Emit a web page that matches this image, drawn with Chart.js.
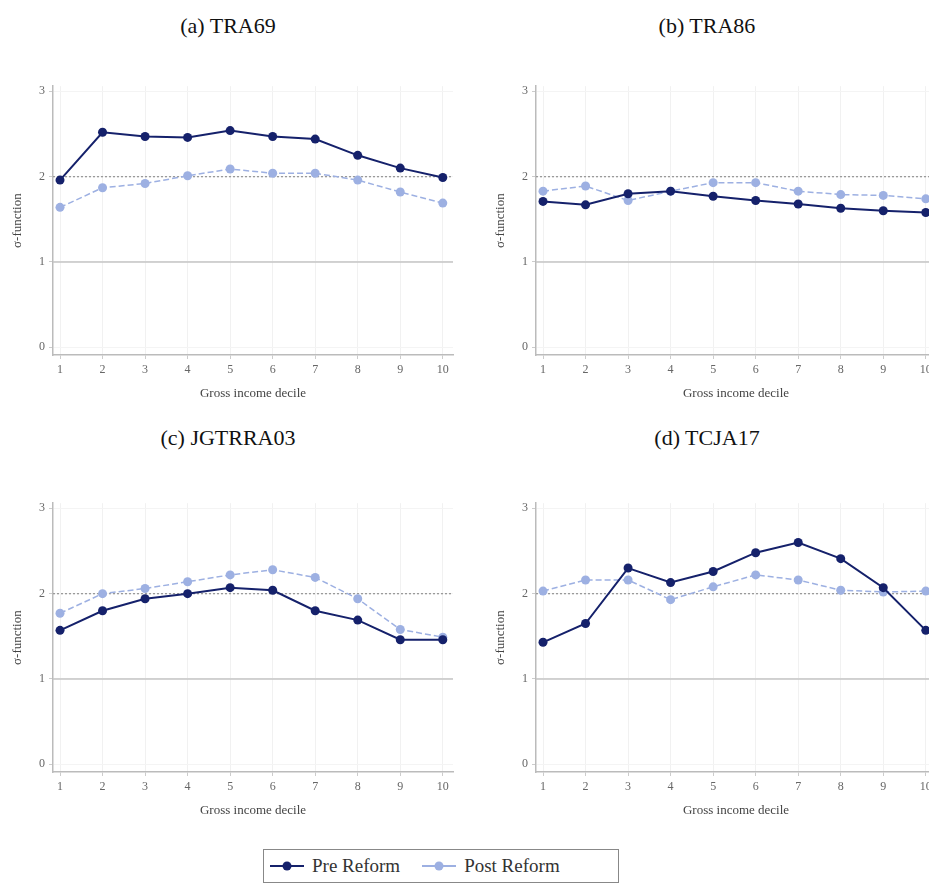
<!DOCTYPE html>
<html>
<head>
<meta charset="utf-8">
<script src="https://cdn.jsdelivr.net/npm/chart.js@4.4.1/dist/chart.umd.min.js"></script>
<style>
  body { margin: 0; width: 929px; height: 884px; overflow: hidden; background: #fff; position: relative; }
  .title { position: absolute; width: 300px; text-align: center; font-family: "Liberation Serif", serif; font-size: 22px; color: #111; }
  canvas { position: absolute; }
  #legend { position: absolute; left: 263px; top: 849px; width: 356px; height: 34px; border: 1px solid #888; box-sizing: border-box;
            font-family: "Liberation Serif", serif; font-size: 19px; color: #333; display: flex; align-items: center; padding-left: 6px; }
  #legend span.item { display: flex; align-items: center; margin-right: 22px; }
  #legend svg { margin-right: 8px; }
</style>
</head>
<body>
<div class="title" style="left:78px; top:13px;">(a) TRA69</div>
<div class="title" style="left:557px; top:13px;">(b) TRA86</div>
<div class="title" style="left:78px; top:425px;">(c) JGTRRA03</div>
<div class="title" style="left:557px; top:425px;">(d) TCJA17</div>

<canvas id="c1" width="465" height="330" style="left:0px; top:75px;"></canvas>
<canvas id="c2" width="465" height="330" style="left:483px; top:75px;"></canvas>
<canvas id="c3" width="465" height="330" style="left:0px; top:492px;"></canvas>
<canvas id="c4" width="465" height="330" style="left:483px; top:492px;"></canvas>

<div id="legend">
  <span class="item"><svg width="34" height="12"><line x1="0" y1="6" x2="34" y2="6" stroke="#15216b" stroke-width="2"/><circle cx="17" cy="6" r="4.5" fill="#15216b"/></svg>Pre Reform</span>
  <span class="item"><svg width="34" height="12"><line x1="0" y1="6" x2="34" y2="6" stroke="#9db0e2" stroke-width="2"/><circle cx="17" cy="6" r="4.5" fill="#9db0e2"/></svg>Post Reform</span>
</div>

<script>
const deciles = [1, 2, 3, 4, 5, 6, 7, 8, 9, 10];
const yTicks = [0, 1, 2, 3];

const preTRA69 = [1.96, 2.52, 2.47, 2.46, 2.54, 2.47, 2.44, 2.25, 2.10, 1.99];
const postTRA69 = [1.64, 1.87, 1.92, 2.01, 2.09, 2.04, 2.04, 1.96, 1.82, 1.69];

const preTRA86 = [1.71, 1.67, 1.80, 1.83, 1.77, 1.72, 1.68, 1.63, 1.60, 1.58];
const postTRA86 = [1.83, 1.89, 1.72, 1.83, 1.93, 1.93, 1.83, 1.79, 1.78, 1.74];

const preJGTRRA03 = [1.57, 1.80, 1.94, 2.00, 2.07, 2.04, 1.80, 1.69, 1.46, 1.46];
const postJGTRRA03 = [1.77, 2.00, 2.06, 2.14, 2.22, 2.28, 2.19, 1.94, 1.58, 1.49];

const preTCJA17 = [1.43, 1.65, 2.30, 2.13, 2.26, 2.48, 2.60, 2.41, 2.07, 1.57];
const postTCJA17 = [2.03, 2.16, 2.16, 1.93, 2.08, 2.22, 2.16, 2.04, 2.02, 2.03];

const preColor = '#15216b';
const postColor = '#9db0e2';
const serif = 'Liberation Serif';

// solid line at 1, dotted line at 2
const refLines = {
    id: 'refLines',
    beforeDatasetsDraw(chart) {
        const { ctx, chartArea, scales } = chart;
        ctx.save();
        let y1 = scales.y.getPixelForValue(1);
        ctx.strokeStyle = '#c4c4c4';
        ctx.lineWidth = 1.3;
        ctx.beginPath();
        ctx.moveTo(chartArea.left, y1);
        ctx.lineTo(chartArea.right, y1);
        ctx.stroke();
        let y2 = scales.y.getPixelForValue(2);
        ctx.strokeStyle = '#9a9a9a';
        ctx.setLineDash([2, 2]);
        ctx.beginPath();
        ctx.moveTo(chartArea.left, y2);
        ctx.lineTo(chartArea.right, y2);
        ctx.stroke();
        ctx.restore();
    }
};

function makePanel(id, pre, post) {
    new Chart(document.getElementById(id), {
        type: 'line',
        data: {
            datasets: [
                {
                    label: 'Pre Reform',
                    data: deciles.map((d, i) => ({ x: d, y: pre[i] })),
                    borderColor: preColor,
                    backgroundColor: preColor,
                    borderWidth: 2,
                    pointRadius: 4.5,
                    pointBorderWidth: 0,
                    tension: 0
                },
                {
                    label: 'Post Reform',
                    data: deciles.map((d, i) => ({ x: d, y: post[i] })),
                    borderColor: postColor,
                    backgroundColor: postColor,
                    borderWidth: 1.5,
                    borderDash: [6, 3],
                    pointRadius: 4.5,
                    pointBorderWidth: 0,
                    tension: 0
                }
            ]
        },
        options: {
            responsive: false,
            animation: false,
            layout: { padding: { top: 5, right: 12, left: 0, bottom: 0 } },
            plugins: {
                legend: { display: false },
                tooltip: { enabled: false }
            },
            scales: {
                x: {
                    type: 'linear',
                    min: 0.835,
                    max: 10.24,
                    afterBuildTicks: axis => { axis.ticks = deciles.map(v => ({ value: v })); },
                    afterFit: axis => { axis.height = 50; },
                    ticks: { color: '#666', font: { family: serif, size: 12 }, padding: 4 },
                    grid: { color: '#f1f1f1', tickColor: '#ccc', tickLength: 4 },
                    border: { color: '#bbb', width: 1.5 },
                    title: { display: true, text: 'Gross income decile', color: '#444', font: { family: serif, size: 13 }, padding: { top: 0 } }
                },
                y: {
                    min: -0.09,
                    max: 3.06,
                    afterBuildTicks: axis => { axis.ticks = yTicks.map(v => ({ value: v })); },
                    afterFit: axis => { axis.width = 53; },
                    ticks: { color: '#666', font: { family: serif, size: 12 }, padding: 4 },
                    grid: { color: '#f4f4f4', tickColor: '#ccc', tickLength: 4 },
                    border: { color: '#bbb', width: 1.5 },
                    title: { display: true, text: 'σ-function', color: '#444', font: { family: serif, size: 13 }, padding: { top: 10, bottom: 2 } }
                }
            }
        },
        plugins: [refLines]
    });
}

makePanel('c1', preTRA69, postTRA69);
makePanel('c2', preTRA86, postTRA86);
makePanel('c3', preJGTRRA03, postJGTRRA03);
makePanel('c4', preTCJA17, postTCJA17);
</script>
</body>
</html>
